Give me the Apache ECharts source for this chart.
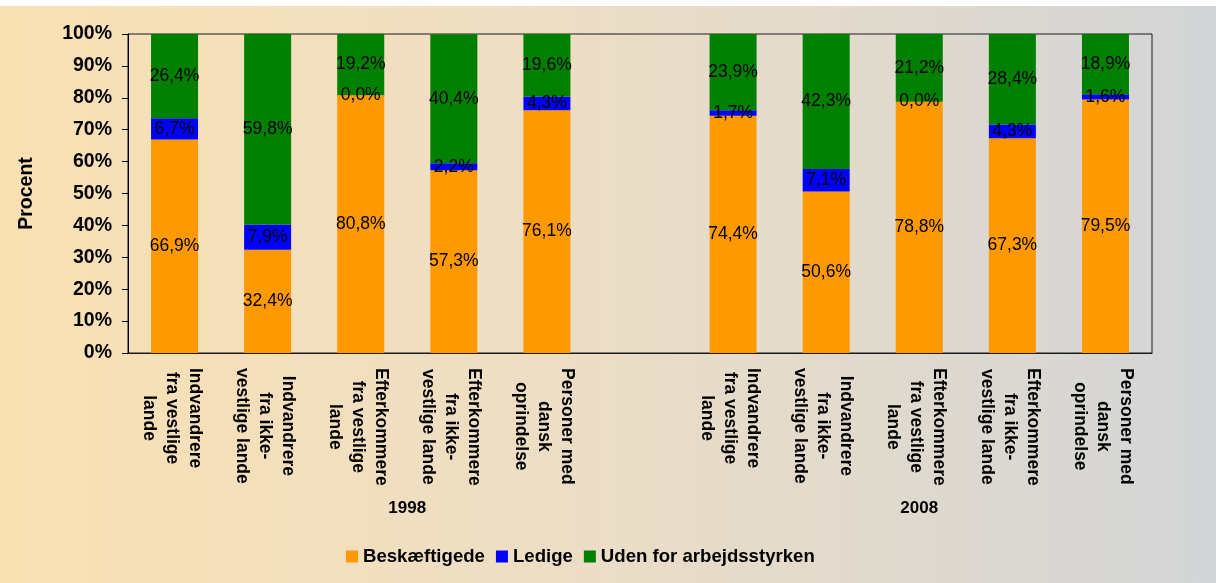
<!DOCTYPE html>
<html>
<head>
<meta charset="utf-8">
<script src="https://cdn.jsdelivr.net/npm/echarts@6/dist/echarts.min.js"></script>
<style>
  html, body { margin: 0; padding: 0; background: #ffffff; }
  #chart { position: absolute; left: 0; top: 6px; width: 1216px; height: 577px; }
</style>
</head>
<body>
<div id="chart"></div>
<script>
// kategorier (tom kategori adskiller de to år)
var categories = [
    'Indvandrere\nfra vestlige\nlande',
    'Indvandrere\nfra ikke-\nvestlige lande',
    'Efterkommere\nfra vestlige\nlande',
    'Efterkommere\nfra ikke-\nvestlige lande',
    'Personer med\ndansk\noprindelse',
    '',
    'Indvandrere\nfra vestlige\nlande',
    'Indvandrere\nfra ikke-\nvestlige lande',
    'Efterkommere\nfra vestlige\nlande',
    'Efterkommere\nfra ikke-\nvestlige lande',
    'Personer med\ndansk\noprindelse'
];
var years = ['1998', '2008'];
var yearCenters = [3, 8.5];

var beskaeftigede = [66.9, 32.4, 80.8, 57.3, 76.1, null, 74.4, 50.6, 78.8, 67.3, 79.5];
var ledige        = [6.7, 7.9, 0.0, 2.2, 4.3, null, 1.7, 7.1, 0.0, 4.3, 1.6];
var udenFor       = [26.4, 59.8, 19.2, 40.4, 19.6, null, 23.9, 42.3, 21.2, 28.4, 18.9];

var yTicks = [0, 10, 20, 30, 40, 50, 60, 70, 80, 90, 100];

(function () {
    var myChart = echarts.init(document.getElementById('chart'));

    //værdi-label med komma
    function pct(p) {
        if (p.value == null) return '';
        return p.value.toFixed(1).replace('.', ',') + '%';
    }

    function barSeries(name, data, color) {
        return {
            name: name,
            type: 'bar',
            stack: 'total',
            barWidth: 47,
            data: data,
            itemStyle: { color: color },
            label: {
                show: true,
                position: 'inside',
                formatter: pct,
                color: '#000',
                fontFamily: 'Liberation Sans, Arial, sans-serif',
                fontSize: 17.5
            }
        };
    }

    var option = {
        backgroundColor: new echarts.graphic.LinearGradient(0, 0, 1, 0, [
            { offset: 0, color: '#fae1b3' },
            { offset: 0.5, color: '#ebddc6' },
            { offset: 1, color: '#d3d5d7' }
        ]),
        animation: false,
        textStyle: { fontFamily: 'Liberation Sans, Arial, sans-serif' },
        grid: {
            left: 128, right: 64, top: 28, bottom: 230,
            show: true,
            borderColor: '#1a1a1a',
            borderWidth: 1,
            backgroundColor: 'transparent'
        },
        legend: {
            left: 341,
            top: 536,
            itemWidth: 12,
            itemHeight: 12,
            itemGap: 11,
            icon: 'rect',
            textStyle: { fontSize: 18.6, fontWeight: 'bold', color: '#000' },
            data: ['Beskæftigede', 'Ledige', 'Uden for arbejdsstyrken']
        },
        xAxis: [{
            type: 'category',
            data: categories,
            axisLine: { lineStyle: { color: '#1a1a1a' } },
            axisTick: { show: false },
            axisLabel: {
                interval: 0,
                rotate: -90,
                margin: 15,
                padding: [6, 0, 0, 0],
                formatter: function (v) { return v ? '{c|' + v + '}' : ''; },
                rich: {
                    c: {
                        align: 'center',
                        fontSize: 17.5,
                        fontWeight: 'bold',
                        lineHeight: 23,
                        color: '#000'
                    }
                }
            }
        }, {
            //årstal under kategorierne
            type: 'value',
            position: 'bottom',
            min: 0,
            max: categories.length,
            interval: 0.5,
            axisLine: { show: false },
            axisTick: { show: false },
            splitLine: { show: false },
            axisLabel: {
                margin: 147,
                fontSize: 17,
                fontWeight: 'bold',
                color: '#000',
                formatter: function (v) {
                    var i = yearCenters.indexOf(v);
                    return i >= 0 ? years[i] : '';
                }
            }
        }],
        yAxis: {
            type: 'value',
            min: yTicks[0],
            max: yTicks[yTicks.length - 1],
            interval: yTicks[1] - yTicks[0],
            name: 'Procent',
            nameLocation: 'middle',
            nameGap: 91,
            nameTextStyle: { fontSize: 19.5, fontWeight: 'bold', color: '#000' },
            axisLine: { show: true, lineStyle: { color: '#000' } },
            axisTick: { show: true, length: 6, lineStyle: { color: '#000' } },
            splitLine: { show: false },
            axisLabel: {
                margin: 16,
                fontSize: 19.5,
                fontWeight: 'bold',
                color: '#000',
                formatter: '{value}%'
            }
        },
        series: [
            barSeries('Beskæftigede', beskaeftigede, '#ff9900'),
            barSeries('Ledige', ledige, '#0000ff'),
            barSeries('Uden for arbejdsstyrken', udenFor, '#008000')
        ]
    };

    myChart.setOption(option);
})();
</script>
</body>
</html>
